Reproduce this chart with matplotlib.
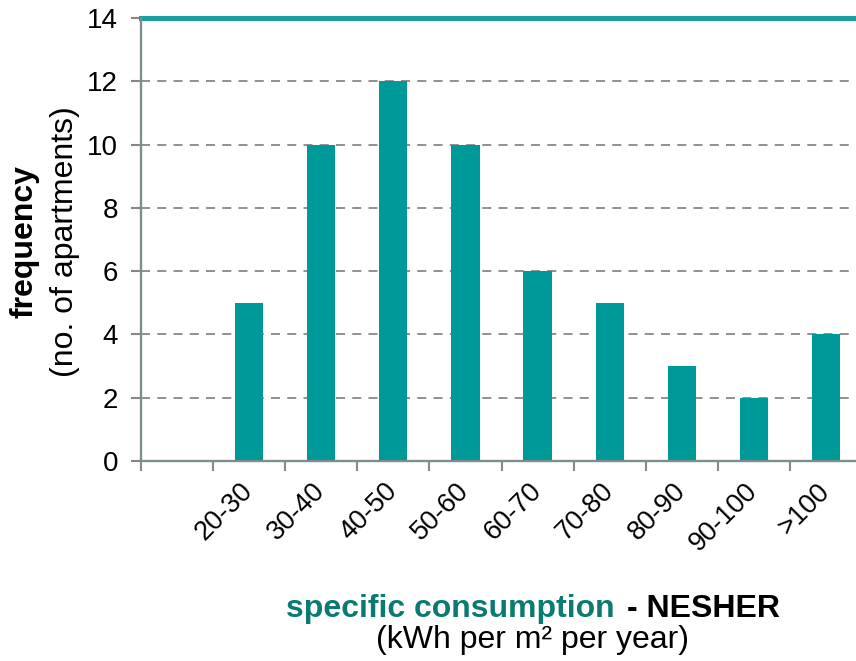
import matplotlib.pyplot as plt
from matplotlib.patches import Rectangle

plt.rcParams['font.family'] = ['Liberation Sans', 'DejaVu Sans']

# consumption bands; the first slot is left empty on the chart
bands = ["", "20-30", "30-40", "40-50", "50-60", "60-70", "70-80", "80-90", "90-100", ">100"]
counts = [0, 5, 10, 12, 10, 6, 5, 3, 2, 4]

teal = "#009999"
border = "#1a9e9e"
grey = "#888888"

W, H = 856, 661
fig = plt.figure(figsize=(W / 100, H / 100), dpi=100)
# plot area runs past the right edge of the figure
ax = fig.add_axes([141 / W, (H - 461) / H, 721 / W, 443 / H])

x = list(range(len(bands)))
ax.bar(x, counts, width=0.39, color=teal, zorder=3)
ax.set_xlim(-0.5, len(bands) - 0.5)
ax.set_ylim(0, 14)

# dashed horizontal gridlines
for y in range(2, 14, 2):
    ax.axhline(y, color=grey, lw=1.3, ls=(0, (5, 4)), zorder=1)

# teal plot-area border
ax.add_patch(Rectangle((0, 0), 1, 1, transform=ax.transAxes, fill=False,
                       edgecolor=border, lw=1.6, zorder=2, clip_on=False))
ax.spines['top'].set_color(border)
ax.spines['top'].set_linewidth(3.6)
ax.spines['right'].set_visible(False)
for side in ('left', 'bottom'):
    ax.spines[side].set_color(grey)
    ax.spines[side].set_linewidth(1.5)
    ax.spines[side].set_zorder(4)

ax.set_yticks(range(0, 15, 2))
ax.tick_params(axis='y', direction='out', length=7, width=1.5, color=grey,
               labelsize=20, pad=9.5)

# category labels centred, tick marks at category boundaries
ax.set_xticks(x)
ax.set_xticklabels(bands, rotation=45, ha='right', va='center',
                   rotation_mode='anchor', fontsize=19.5)
ax.tick_params(axis='x', which='major', length=0, pad=19)
ax.set_xticks([i - 0.5 for i in range(len(bands))], minor=True)
ax.tick_params(axis='x', which='minor', direction='out', length=7,
               width=1.5, color=grey)

# y axis title, two lines
fig.text(25 / W, 1 - 242 / H, "frequency", rotation=90, fontsize=23,
         fontweight='bold', ha='center', va='center')
fig.text(65 / W, 1 - 242 / H, "(no. of apartments)", rotation=90, fontsize=23,
         ha='center', va='center')

# x axis title
fig.text(615 / W, 1 - 617 / H, "specific consumption", fontsize=23,
         fontweight='bold', color="#0b7a72", ha='right', va='baseline')
fig.text(627 / W, 1 - 617 / H, "- NESHER", fontsize=23,
         fontweight='bold', color='black', ha='left', va='baseline')
fig.text(532 / W, 1 - 640 / H, "(kWh per m\u00b2 per year)", fontsize=23,
         ha='center', va='center')

fig.savefig("out.png", dpi=100)
